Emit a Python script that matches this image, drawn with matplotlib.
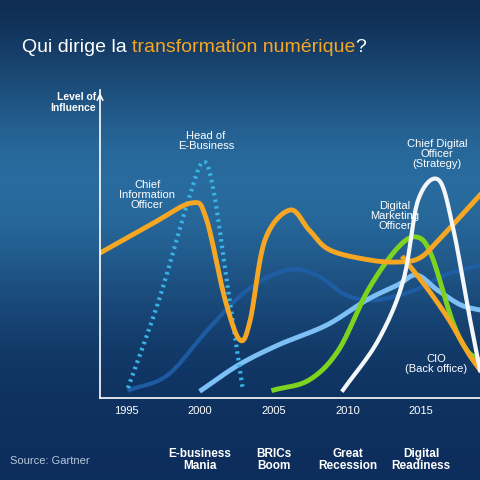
import numpy as np
import matplotlib
matplotlib.use("Agg")
import matplotlib.pyplot as plt

plt.rcParams['font.family'] = ['Liberation Sans', 'DejaVu Sans']

# data: (year, level of influence)
cio_year = [1993.2, 1996.6, 1999.4, 2000.4, 2001.7, 2002.7, 2003.4, 2004.4, 2006.1, 2007.4, 2008.8, 2011.5, 2013.5, 2014.9, 2016.2, 2019.0]
cio_level = [145, 173, 195, 180, 98, 58, 78, 158, 188, 168, 148, 138, 136, 140, 158, 203]
back_year = [2013.8, 2015.5, 2016.9, 2018.2, 2019.0]
back_level = [140, 108, 78, 45, 28]
ebiz_year = [1995.1, 1997.2, 1999.2, 2000.2, 2000.9, 2001.9, 2002.9]
ebiz_level = [10, 98, 198, 236, 208, 108, 8]
dark_year = [1995.2, 1997.8, 2000.5, 2003.2, 2005.9, 2007.9, 2009.9, 2011.9, 2014.6, 2016.6, 2019.0]
dark_level = [8, 23, 68, 108, 128, 123, 103, 98, 108, 123, 133]
light_year = [2000.1, 2002.6, 2005.3, 2008.6, 2011.3, 2013.4, 2014.7, 2016.1, 2017.7, 2019.0]
light_level = [8, 33, 53, 73, 98, 113, 123, 108, 93, 88]
green_year = [2005.0, 2007.4, 2009.4, 2011.4, 2013.4, 2014.7, 2015.7, 2017.1, 2018.1, 2019.0]
green_level = [8, 18, 48, 108, 150, 161, 143, 78, 48, 38]
white_year = [2009.7, 2012.1, 2013.8, 2014.8, 2016.2, 2017.2, 2018.2, 2019.0]
white_level = [8, 58, 118, 198, 218, 168, 88, 28]

ticks = [1995, 2000, 2005, 2010, 2015]
eras = ["E-business\nMania", "BRICs\nBoom", "Great\nRecession", "Digital\nReadiness"]
era_x = [2000, 2005, 2010, 2015]

ORANGE = "#f5a623"


def smooth(x, y, n=20):
    """Catmull-Rom through the points"""
    p = np.column_stack([x, y]).astype(float)
    p = np.vstack([2 * p[0] - p[1], p, 2 * p[-1] - p[-2]])
    out = []
    t = np.linspace(0, 1, n, endpoint=False)[:, None]
    for i in range(1, len(p) - 2):
        p0, p1, p2, p3 = p[i - 1], p[i], p[i + 1], p[i + 2]
        out.append(0.5 * (2 * p1 + (-p0 + p2) * t + (2 * p0 - 5 * p1 + 4 * p2 - p3) * t ** 2
                          + (-p0 + 3 * p1 - 3 * p2 + p3) * t ** 3))
    out.append(p[-2][None, :])
    out = np.vstack(out)
    return out[:, 0], out[:, 1]


fig = plt.figure(figsize=(4.8, 4.8), dpi=100)

# background gradient
bg = fig.add_axes([0, 0, 1, 1])
yy = np.linspace(0, 1, 256)
top = np.array([0.04, 0.13, 0.27])
mid = np.array([0.16, 0.42, 0.62])
bot = np.array([0.05, 0.18, 0.36])
w = np.exp(-((yy - 0.38) / 0.28) ** 2)[:, None]
base = np.where(yy[:, None] < 0.38, top + (mid - top) * w, bot + (mid - bot) * w)
img = np.repeat(base[:, None, :], 4, axis=1)
bg.imshow(img, aspect="auto", extent=[0, 1, 1, 0])
bg.set_xlim(0, 1)
bg.set_ylim(1, 0)
bg.axis("off")

ax = fig.add_axes([100 / 480, 1 - 398 / 480, 380 / 480, 308 / 480])
ax.set_facecolor("none")
ax.set_xlim(1993.2, 2019.0)
ax.set_ylim(0, 308)
for s in ["top", "right"]:
    ax.spines[s].set_visible(False)
for s in ["left", "bottom"]:
    ax.spines[s].set_color("white")
    ax.spines[s].set_linewidth(1.2)
ax.annotate("", xy=(0, 1.0), xytext=(0, 0.97), xycoords="axes fraction",
            arrowprops=dict(arrowstyle="->", color="white", lw=1.2))
ax.set_xticks(ticks)
ax.set_xticklabels([str(t) for t in ticks], color="white", fontsize=8)
ax.tick_params(axis="x", length=0, pad=6)
ax.set_yticks([])

ax.plot(*smooth(dark_year, dark_level), color="#1f5fa8", lw=3, alpha=0.9)
ax.plot(*smooth(light_year, light_level), color="#7cc0f5", lw=3.5)
ax.plot(*smooth(ebiz_year, ebiz_level), color="#39b4e8", lw=3, ls=(0, (0.6, 1.0)))
ax.plot(*smooth(green_year, green_level), color="#7ed321", lw=3.5)
ax.plot(*smooth(back_year, back_level), color=ORANGE, lw=3.5)
ax.plot(*smooth(cio_year, cio_level), color=ORANGE, lw=3.5)
ax.plot(*smooth(white_year, white_level), color="#f4f6f8", lw=3)

lab = dict(color="white", fontsize=8, ha="center", va="center", linespacing=1.05)
ax.text(1996.4, 203, "Chief\nInformation\nOfficer", **lab)
ax.text(2000.4, 257, "Head of\nE-Business", **lab)
ax.text(2013.2, 182, "Digital\nMarketing\nOfficer", **lab)
ax.text(2016.1, 244, "Chief Digital\nOfficer\n(Strategy)", **lab)
ax.text(2016.0, 34, "CIO\n(Back office)", **lab)
ax.text(-0.01, 0.96, "Level of\nInfluence", color="white", fontsize=7.5, fontweight="bold",
        ha="right", va="center", linespacing=1.1, transform=ax.transAxes)

for x, e in zip(era_x, eras):
    ax.text(x, -62, e, color="white", fontsize=8.5, fontweight="bold", ha="center",
            va="center", linespacing=1.05)

fig.text(10 / 480, 1 - 461 / 480, "Source: Gartner", color="#b8c8dc", fontsize=8, va="center")

# title in three colours
fig.canvas.draw()
r = fig.canvas.get_renderer()
x0 = 22 / 480
for part, c in [("Qui dirige la ", "white"), ("transformation numérique", ORANGE), ("?", "white")]:
    t = fig.text(x0, 1 - 47 / 480, part, color=c, fontsize=14, va="center")
    x0 += t.get_window_extent(r).width / fig.bbox.width

fig.savefig("out.png", dpi=100)
